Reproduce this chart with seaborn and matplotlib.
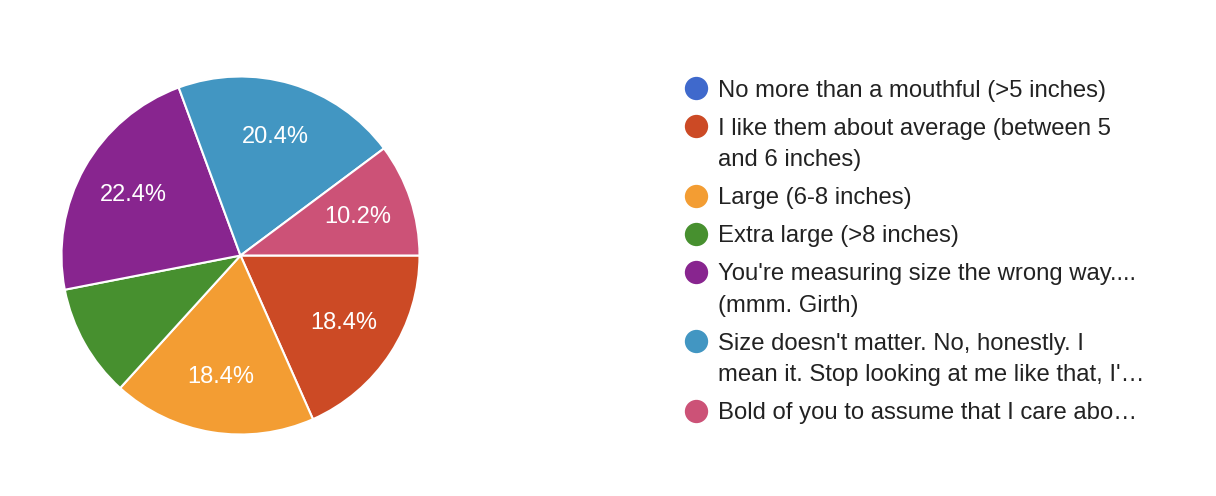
import matplotlib
matplotlib.use("Agg")
import matplotlib.pyplot as plt
import seaborn as sns

# ---- data ----
categories = [
    "No more than a mouthful (>5 inches)",
    "I like them about average (between 5\nand 6 inches)",
    "Large (6-8 inches)",
    "Extra large (>8 inches)",
    "You're measuring size the wrong way....\n(mmm. Girth)",
    "Size doesn't matter. No, honestly. I\nmean it. Stop looking at me like that, I'\u2026",
    "Bold of you to assume that I care abo\u2026",
]
counts = [0, 9, 9, 5, 11, 10, 5]
show_pct = [False, True, True, False, True, True, True]
hex_colors = ["#3F69CC", "#CC4A25", "#F39D33", "#47902F", "#88258F", "#4296C2", "#CC5277"]

sns.set_theme(style="white")
plt.rcParams["font.family"] = ["Liberation Sans", "DejaVu Sans"]
palette = sns.color_palette(hex_colors)

W, H = 1216, 496
fig = plt.figure(figsize=(W / 100, H / 100), dpi=100)
fig.patch.set_facecolor("white")

cx, cy, r = 240.5, 255.5, 179
ax = fig.add_axes([(cx - r) / W, (H - cy - r) / H, 2 * r / W, 2 * r / H])


def fmt(p, it=iter(range(len(counts)))):
    i = next(it)
    return f"{p:.1f}%" if show_pct[i] else ""


wedges, texts, autotexts = ax.pie(
    counts, colors=palette, startangle=0, counterclock=False,
    autopct=fmt, pctdistance=0.69,
    wedgeprops=dict(edgecolor="white", linewidth=1.5),
    textprops=dict(color="white", fontsize=17),
)
ax.set_xlim(-1, 1)
ax.set_ylim(-1, 1)
ax.set_aspect("equal")
ax.axis("off")

# ---- legend drawn manually ----
lax = fig.add_axes([0, 0, 1, 1])
lax.set_xlim(0, W)
lax.set_ylim(H, 0)
lax.axis("off")
y = 88.3
for lab, col in zip(categories, palette):
    lax.scatter([695.5], [y], s=282, color=col, linewidths=0)
    lines = lab.split("\n")
    for j, ln in enumerate(lines):
        lax.text(718, y + j * 31.5, ln, fontsize=17.2, color="#222222",
                 va="center_baseline", ha="left")
    y += (len(lines) - 1) * 31.5 + 38

fig.savefig("out.png", dpi=100, facecolor="white")
